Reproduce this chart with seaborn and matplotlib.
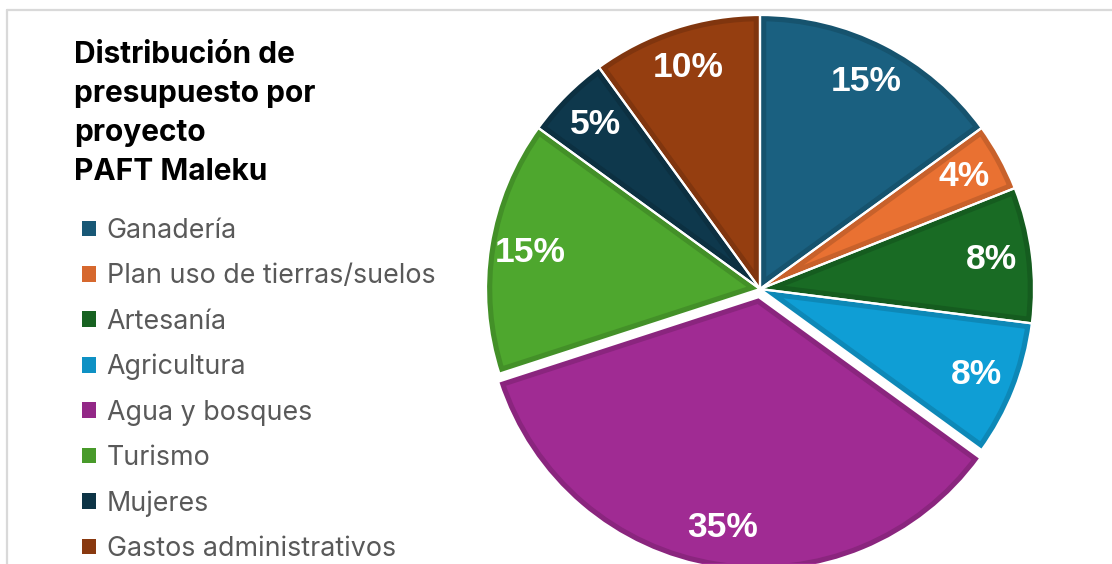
import matplotlib
matplotlib.use("Agg")
import matplotlib.pyplot as plt
import seaborn as sns
from matplotlib.patches import Wedge, Patch
from matplotlib.lines import Line2D
import numpy as np

# data
categorias = ["Ganadería", "Plan uso de tierras/suelos", "Artesanía", "Agricultura",
              "Agua y bosques", "Turismo", "Mujeres", "Gastos administrativos"]
porcentajes = [15, 4, 8, 8, 35, 15, 5, 10]
separar = [0, 0, 0, 0, 0.03, 0, 0, 0]
colores = ["#1a6080", "#e97132", "#196b24", "#0f9ed5",
           "#a02b93", "#4ea72e", "#0e384c", "#953e10"]
titulo = "Distribución de\npresupuesto por\nproyecto\nPAFT Maleku"

sns.set_theme(style="white")
plt.rcParams["font.family"] = ["Inter", "DejaVu Sans"]

W, H = 1112, 564
fig = plt.figure(figsize=(W / 100, H / 100), dpi=100)
fig.patch.set_facecolor("white")

# light frame like the original chart area
fig.add_artist(Line2D([7 / W, 7 / W], [0, 1 - 10 / H], color="#d9d9d9", lw=1.6))
fig.add_artist(Line2D([7 / W, 1], [1 - 10 / H, 1 - 10 / H], color="#d9d9d9", lw=1.6))

# pie axes
cx, cy, r = 760, 289, 274
ax = fig.add_axes([(cx - r) / W, (H - cy - r) / H, 2 * r / W, 2 * r / H])

def oscuro(c, f=0.88):
    rgb = np.array(matplotlib.colors.to_rgb(c))
    return tuple(rgb * f)

wedges, textos, autotextos = ax.pie(
    porcentajes, colors=colores, startangle=90, counterclock=False,
    explode=separar, radius=1, autopct="%d%%", pctdistance=0.85,
    wedgeprops=dict(linewidth=0),
    textprops=dict(color="white", fontsize=25.5, fontweight="bold",
                   family=["Liberation Sans", "DejaVu Sans"]))
ax.set_xlim(-1, 1)
ax.set_ylim(-1, 1)
ax.set_aspect("equal")
ax.axis("off")

for w, c in zip(wedges, colores):
    w.set_clip_on(False)
    borde = Wedge(w.center, w.r, w.theta1, w.theta2, facecolor="none",
                  edgecolor=oscuro(c, 0.86), linewidth=9, zorder=w.get_zorder() + 0.1)
    ax.add_patch(borde)
    borde.set_clip_path(w)
    blanco = Wedge(w.center, w.r, w.theta1, w.theta2, facecolor="none",
                   edgecolor="white", linewidth=1.6, zorder=w.get_zorder() + 0.2)
    blanco.set_clip_on(False)
    ax.add_patch(blanco)

for t in autotextos:
    t.set_zorder(5)

# title
fig.text(74 / W, 1 - 41 / H, titulo, ha="left", va="top", fontsize=21.5,
         fontweight="bold", color="black", linespacing=1.5)

# legend
handles = [Patch(facecolor=oscuro(c, 0.92), edgecolor="none", label=n)
           for n, c in zip(categorias, colores)]
fig.legend(handles=handles, loc="upper left", bbox_to_anchor=(82 / W, 1 - 218 / H),
           frameon=False, fontsize=19.3, labelcolor="#595959",
           handlelength=0.52, handleheight=0.52, handletextpad=0.4,
           labelspacing=0.72, borderaxespad=0, borderpad=0)

fig.savefig("out.png", dpi=100, facecolor="white")
